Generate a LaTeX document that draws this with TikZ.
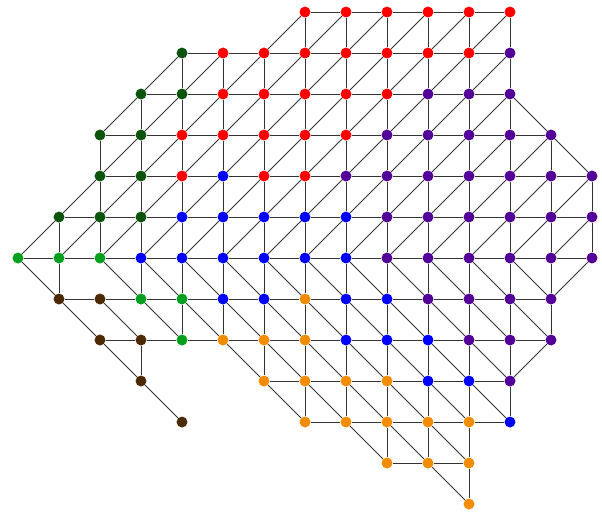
\documentclass[tikz,border=0pt]{standalone}
\usepackage{tikz}
\definecolor{vred}{RGB}{255,0,0}
\definecolor{vdkgreen}{RGB}{12,84,12}
\definecolor{vgreen}{RGB}{2,160,30}
\definecolor{vblue}{RGB}{0,0,255}
\definecolor{vpurple}{RGB}{82,0,152}
\definecolor{vbrown}{RGB}{76,42,6}
\definecolor{vorange}{RGB}{242,140,0}
\tikzset{
  mesh/.style={x=1.0848cm, y=-1.0848cm,
               every node/.style={circle, draw=none, inner sep=0pt, minimum size=2.9mm}},
  link/.style={draw=black!80, line width=0.7pt}
}

\begin{document}
\begin{tikzpicture}[mesh]
\useasboundingbox (-0.439,-0.293) rectangle (14.244,12.195);
% vertices, one loop per colour
\foreach \c/\r in {7/0,8/0,9/0,10/0,11/0,12/0,5/1,6/1,7/1,8/1,9/1,10/1,11/1,5/2,6/2,7/2,8/2,9/2,4/3,5/3,6/3,7/3,8/3,4/4,6/4,7/4}
  \node[fill=vred] (v\c-\r) at (\c,\r) {};
\foreach \c/\r in {4/1,3/2,4/2,2/3,3/3,2/4,3/4,1/5,2/5,3/5}
  \node[fill=vdkgreen] (v\c-\r) at (\c,\r) {};
\foreach \c/\r in {0/6,1/6,2/6,3/7,4/7,4/8}
  \node[fill=vgreen] (v\c-\r) at (\c,\r) {};
\foreach \c/\r in {5/4,4/5,5/5,6/5,7/5,8/5,3/6,4/6,5/6,6/6,7/6,8/6,5/7,6/7,8/7,9/7,8/8,9/8,10/8,10/9,11/9,12/10}
  \node[fill=vblue] (v\c-\r) at (\c,\r) {};
\foreach \c/\r in {12/1,10/2,11/2,12/2,9/3,10/3,11/3,12/3,13/3,8/4,9/4,10/4,11/4,12/4,13/4,14/4,
                   9/5,10/5,11/5,12/5,13/5,14/5,9/6,10/6,11/6,12/6,13/6,14/6,10/7,11/7,12/7,13/7,11/8,12/8,13/8,12/9}
  \node[fill=vpurple] (v\c-\r) at (\c,\r) {};
\foreach \c/\r in {1/7,2/7,2/8,3/8,3/9,4/10}
  \node[fill=vbrown] (v\c-\r) at (\c,\r) {};
\foreach \c/\r in {7/7,5/8,6/8,7/8,6/9,7/9,8/9,9/9,7/10,8/10,9/10,10/10,11/10,9/11,10/11,11/11,11/12}
  \node[fill=vorange] (v\c-\r) at (\c,\r) {};
% rows: row/first/last
\foreach \r/\a/\b in {0/7/12,1/4/12,2/3/12,3/2/13,4/2/14,5/1/14,6/0/14,7/1/13,8/2/13,9/6/12,10/7/12,11/9/11}{
  \pgfmathtruncatemacro\na{\a+1}
  \foreach \c in {\na,...,\b}{\pgfmathtruncatemacro\nb{\c-1}\draw[link] (v\nb-\r) -- (v\c-\r);}}
% columns: col/first/last
\foreach \c/\a/\b in {1/5/7,2/3/6,3/2/7,3/8/9,4/1/8,5/1/8,6/1/9,7/0/10,8/0/10,9/0/11,10/0/11,11/0/12,12/0/10,13/3/8,14/4/6}{
  \pgfmathtruncatemacro\na{\a+1}
  \foreach \r in {\na,...,\b}{\pgfmathtruncatemacro\nb{\r-1}\draw[link] (v\c-\nb) -- (v\c-\r);}}
% upper half, / diagonals
\foreach \r/\a/\b in {0/6/11,1/3/11,2/2/11,3/2/12,4/1/13,5/0/13}{
  \pgfmathtruncatemacro\na{\r+1}
  \foreach \c in {\a,...,\b}{\pgfmathtruncatemacro\nb{\c+1}\draw[link] (v\c-\na) -- (v\nb-\r);}}
% lower half, \ diagonals
\foreach \r/\a/\b in {6/0/0,6/2/12,7/1/12,8/2/2,8/5/11,9/3/3,9/6/11,10/8/10,11/10/10}{
  \pgfmathtruncatemacro\na{\r+1}
  \foreach \c in {\a,...,\b}{\pgfmathtruncatemacro\nb{\c+1}\draw[link] (v\c-\r) -- (v\nb-\na);}}
% right border
\draw[link] (v12-2) -- (v13-3) -- (v14-4);
\draw[link] (v14-6) -- (v13-7);
\draw[link] (v13-8) -- (v12-9);
\end{tikzpicture}
\end{document}
